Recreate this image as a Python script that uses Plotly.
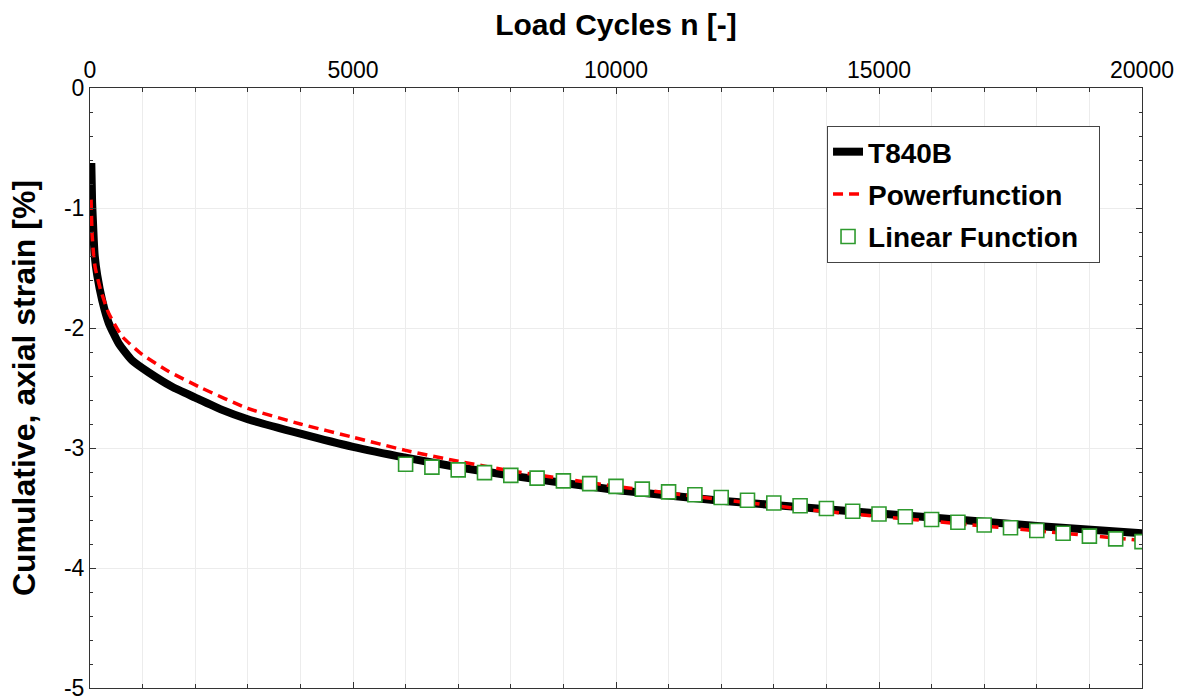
import plotly.graph_objects as go

# ---- data ----
meas_n = [25, 40, 55, 72, 90, 137, 232, 358, 548, 800, 1115, 1560, 2000, 2500, 3000,
          4000, 5000, 6000, 7000, 8000, 10000, 12000, 14000, 16000, 18000, 20000]
meas_strain = [-0.625, -0.95, -1.10, -1.27, -1.40, -1.56, -1.77, -1.96, -2.13, -2.27,
               -2.37, -2.49, -2.58, -2.68, -2.76, -2.88, -2.99, -3.08, -3.16, -3.23,
               -3.35, -3.44, -3.51, -3.58, -3.65, -3.71]

pow_n = [20, 40, 70, 100, 200, 358, 610, 990, 1490, 2120, 3000, 4000, 5000, 6000,
         7000, 8000, 10000, 12000, 14000, 16000, 18000, 20000]
pow_strain = [-0.93, -1.22, -1.40, -1.50, -1.68, -1.88, -2.07, -2.22, -2.36, -2.50,
              -2.67, -2.80, -2.91, -3.02, -3.11, -3.19, -3.32, -3.43, -3.53, -3.61,
              -3.69, -3.77]

lin_n = [6000, 6500, 7000, 7500, 8000, 8500, 9000, 9500, 10000, 10500, 11000, 11500,
         12000, 12500, 13000, 13500, 14000, 14500, 15000, 15500, 16000, 16500, 17000,
         17500, 18000, 18500, 19000, 19500, 20000]
lin_strain = [-3.136, -3.159, -3.182, -3.205, -3.228, -3.251, -3.274, -3.297, -3.320,
              -3.343, -3.366, -3.389, -3.412, -3.435, -3.458, -3.481, -3.504, -3.527,
              -3.550, -3.573, -3.596, -3.619, -3.642, -3.665, -3.688, -3.711, -3.734,
              -3.757, -3.780]

x_ticks = [0, 5000, 10000, 15000, 20000]
y_ticks = [0, -1, -2, -3, -4, -5]

FONT = "Liberation Sans, Arial, sans-serif"

fig = go.Figure()
fig.add_trace(go.Scatter(x=meas_n, y=meas_strain, mode="lines", name="<b>T840B</b>",
                         line=dict(color="black", width=8, shape="spline", smoothing=0.5),
                         legendgroup="a"))
fig.add_trace(go.Scatter(x=pow_n, y=pow_strain, mode="lines", name="<b>Powerfunction</b>",
                         line=dict(color="#ff0000", width=3.5, dash="10px,6px",
                                   shape="spline", smoothing=0.5),
                         legendgroup="b"))
fig.add_trace(go.Scatter(x=lin_n, y=lin_strain, mode="markers",
                         name="<b>Linear Function</b>&nbsp;&nbsp;",
                         marker=dict(symbol="square", size=14, color="white",
                                     line=dict(color="#2e9a2e", width=1.6)),
                         legendgroup="c"))

fig.update_layout(
    width=1188, height=697,
    margin=dict(l=90, r=46, t=88, b=9, autoexpand=False),
    paper_bgcolor="white", plot_bgcolor="white",
    font=dict(family=FONT, color="black", size=22),
    showlegend=True,
    legend=dict(x=0.7006, y=0.9367, xanchor="left", yanchor="top",
                bordercolor="#444", borderwidth=1, bgcolor="white",
                font=dict(size=28, family=FONT), tracegroupgap=3,
                itemwidth=30),
)

fig.update_xaxes(
    side="top", range=[0, 20000], tickvals=x_ticks,
    ticktext=[str(v) for v in x_ticks],
    tickfont=dict(size=23, family=FONT),
    ticks="inside", ticklen=6, tickcolor="#333",
    showline=True, linecolor="#333", linewidth=1, mirror="ticks",
    showgrid=True, gridcolor="#ececec", gridwidth=1,
    minor=dict(dtick=1000, ticks="inside", ticklen=4, tickcolor="#333",
               showgrid=True, gridcolor="#ececec", gridwidth=1),
    zeroline=False, ticklabeloverflow="allow", automargin=False,
    title=dict(text="<b>Load Cycles n [-]</b>", font=dict(size=30, family=FONT), standoff=12),
)
fig.update_yaxes(
    range=[-5, 0], tickvals=y_ticks, ticktext=[str(v) for v in y_ticks],
    tickfont=dict(size=23, family=FONT),
    ticks="inside", ticklen=6, tickcolor="#333",
    showline=True, linecolor="#333", linewidth=1, mirror="ticks",
    showgrid=True, gridcolor="#ececec", gridwidth=1,
    minor=dict(dtick=0.2, ticks="inside", ticklen=3, tickcolor="#333", showgrid=False),
    zeroline=False, ticklabeloverflow="allow", automargin=False,
    title=dict(text="<b>Cumulative, axial strain [%]</b>", font=dict(size=32, family=FONT),
               standoff=18),
)

fig.write_html("out.html")
